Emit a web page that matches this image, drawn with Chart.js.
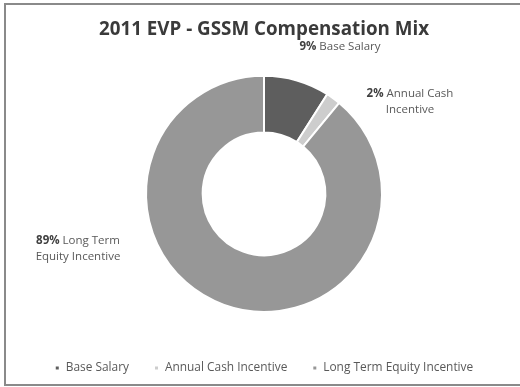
<!DOCTYPE html>
<html>
<head>
<meta charset="utf-8">
<script src="https://cdn.jsdelivr.net/npm/chart.js@4.4.0/dist/chart.umd.min.js"></script>
<style>
  html, body { margin: 0; padding: 0; background: #fff; width: 520px; height: 387px; overflow: hidden; }
  #frame { position: absolute; left: 4px; top: 3px; width: 530px; height: 379px;
           border-left: 2px solid #8a8a8a; border-top: 2px solid #8a8a8a; border-bottom: 2px solid #8a8a8a; }
  canvas { position: absolute; left: 0; top: 0; }
</style>
</head>
<body>
<div id="frame"></div>
<canvas id="c" width="520" height="387"></canvas>
<script>
const categories = ['Base Salary', 'Annual Cash Incentive', 'Long Term Equity Incentive'];
const shares = [9, 2, 89];
const labelLines = [['Base Salary'], ['Annual Cash', 'Incentive'], ['Long Term', 'Equity Incentive']];
const colors = ['#5e5e5e', '#cdcdcd', '#979797'];

const FONT = '"Open Sans", "Noto Sans", sans-serif';
const LABEL_SIZE = 11.5;
// label anchor offsets relative to doughnut centre (layout only)
const labelOffsets = [[76, -147], [146, -100], [-186, 47]];

const dataLabelPlugin = {
  id: 'dataLabels',
  afterDatasetsDraw(chart) {
    const ctx = chart.ctx;
    const meta = chart.getDatasetMeta(0);
    const arc = meta.data[0];
    const cx = arc.x, cy = arc.y;
    ctx.save();
    ctx.textBaseline = 'middle';
    shares.forEach((v, i) => {
      const [ox, oy] = labelOffsets[i];
      const x = cx + ox, y = cy + oy;
      const lines = labelLines[i];
      lines.forEach((ln, j) => {
        const ly = y + j * 16;
        if (j === 0) {
          const pct = v + '% ';
          ctx.font = 'bold ' + LABEL_SIZE + 'px ' + FONT;
          const w1 = ctx.measureText(pct).width;
          ctx.font = LABEL_SIZE + 'px ' + FONT;
          const w2 = ctx.measureText(ln).width;
          const start = x - (w1 + w2) / 2;
          ctx.textAlign = 'left';
          ctx.font = 'bold ' + LABEL_SIZE + 'px ' + FONT;
          ctx.fillStyle = '#404040';
          ctx.fillText(pct, start, ly);
          ctx.font = LABEL_SIZE + 'px ' + FONT;
          ctx.fillStyle = '#595959';
          ctx.fillText(ln, start + w1, ly);
        } else {
          ctx.font = LABEL_SIZE + 'px ' + FONT;
          ctx.fillStyle = '#595959';
          ctx.textAlign = 'center';
          ctx.fillText(ln, x, ly);
        }
      });
    });
    ctx.restore();
  }
};

new Chart(document.getElementById('c'), {
  type: 'doughnut',
  data: {
    labels: categories,
    datasets: [{
      data: shares,
      backgroundColor: colors,
      borderColor: '#ffffff',
      borderWidth: 2,
      radius: 118,
      cutout: '52%'
    }]
  },
  options: {
    responsive: false,
    animation: false,
    layout: { padding: { left: 8, right: 0, top: 0, bottom: 3 } },
    plugins: {
      title: {
        display: true,
        text: '2011 EVP - GSSM Compensation Mix',
        color: '#3a3a3a',
        font: { family: FONT, size: 18.8, weight: 'bold' },
        padding: { top: 18, bottom: 10 }
      },
      legend: {
        display: true,
        position: 'bottom',
        labels: {
          boxWidth: 5,
          boxHeight: 5,
          padding: 25,
          color: '#595959',
          font: { family: FONT, size: 11.9 }
        }
      },
      tooltip: { enabled: false }
    }
  },
  plugins: [dataLabelPlugin]
});
</script>
</body>
</html>
